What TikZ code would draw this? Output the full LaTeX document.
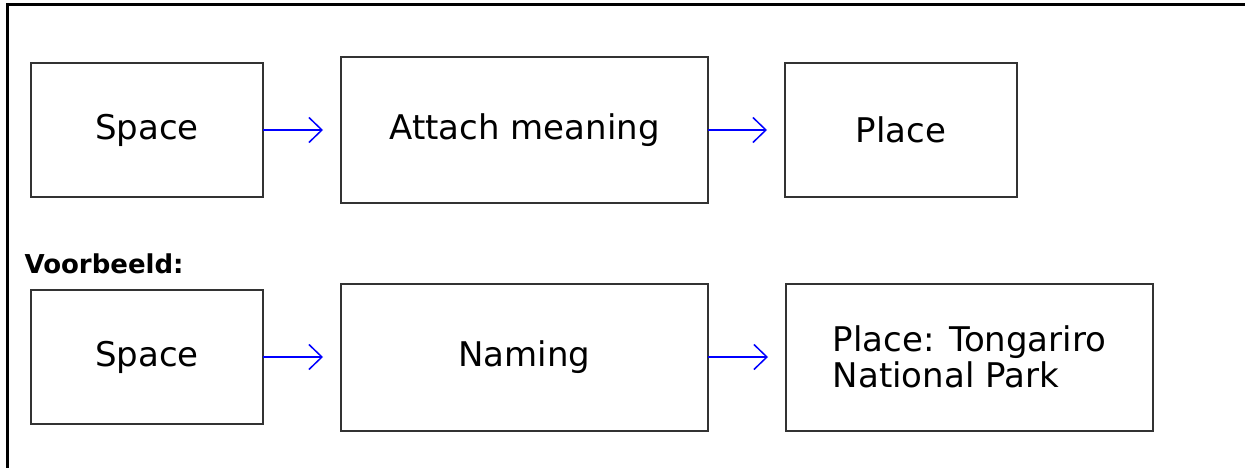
\documentclass[tikz,border=0pt]{standalone}
\usepackage{fontspec}
\setmainfont{DejaVu Sans}
\usetikzlibrary{positioning,arrows.meta}

\begin{document}
\begin{tikzpicture}[x=1pt, y=-1pt, node distance=78pt,
                    main box/.style={rectangle,draw=black!80,line width=2pt,inner sep=0pt,outer sep=0pt,
                                     minimum width=232pt,minimum height=134pt,
                                     font=\fontsize{34}{36}\selectfont},
                    wide box/.style={main box,minimum width=367pt,minimum height=146pt},
                    flow/.style={draw=blue,line width=1.5pt,shorten >=18pt,
                                 -{Straight Barb[length=13pt,width=25pt,line width=1.5pt]}}]

  \useasboundingbox (0,0) rectangle (1245,468);
  % outer frame, only top and left edge visible
  \draw[line width=3pt] (7.5,475) -- (7.5,5) -- (1250,5);

  \node[main box] (space) at (147,130) {Space};
  \node[wide box] (attach) [right=78pt of space] {Attach meaning};
  \node[main box] (place) [right=77pt of attach] {Place};

  \node[font=\fontsize{26}{28}\selectfont\bfseries,anchor=base west] (example) at (21,273) {Voorbeeld:};

  \node[main box] (space2) at (147,357) {Space};
  \node[wide box,minimum height=147pt] (naming) [right=78pt of space2] {Naming};
  \node[wide box,minimum height=147pt,align=left] (park) [right=78pt of naming] {Place: Tongariro\\National Park};

\path[every edge/.style={flow}]
    (space) edge (attach)
    (attach) edge (place)
    (space2) edge (naming)
    (naming) edge (park)
  ;

\end{tikzpicture}
\end{document}
